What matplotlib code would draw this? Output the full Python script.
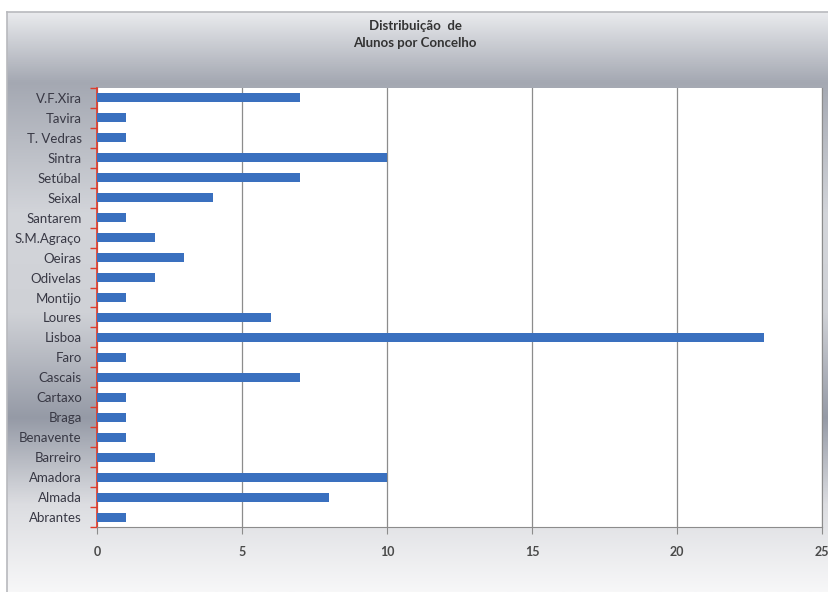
import matplotlib.pyplot as plt
import numpy as np
from matplotlib.colors import LinearSegmentedColormap

concelhos = ['V.F.Xira', 'Tavira', 'T. Vedras', 'Sintra', 'Setúbal', 'Seixal',
             'Santarem', 'S.M.Agraço', 'Oeiras', 'Odivelas', 'Montijo', 'Loures',
             'Lisboa', 'Faro', 'Cascais', 'Cartaxo', 'Braga', 'Benavente',
             'Barreiro', 'Amadora', 'Almada', 'Abrantes']
alunos = [7, 1, 1, 10, 7, 4, 1, 2, 3, 2, 1, 6, 23, 1, 7, 1, 1, 1, 2, 10, 8, 1]
x_ticks = [0, 5, 10, 15, 20, 25]

plt.rcParams['font.family'] = ['Lato', 'DejaVu Sans']

fig = plt.figure(figsize=(8.29, 5.92), dpi=100)

# metallic gradient background of the chart area
bg = fig.add_axes([7 / 829, 0, 1 - 7 / 829, 1 - 12 / 592])
grad_cmap = LinearSegmentedColormap.from_list('metal', [
    (0.00, '#e9eaed'), (0.12, '#a4a8b2'), (0.35, '#d3d5da'),
    (0.52, '#cfd1d6'), (0.70, '#959aa6'), (0.85, '#dcdde1'), (1.00, '#f7f7f8')])
bg.imshow(np.linspace(0, 1, 256).reshape(-1, 1), aspect='auto', cmap=grad_cmap,
          extent=[0, 1, 0, 1])
bg.set_xticks([])
bg.set_yticks([])
for s in bg.spines.values():
    s.set_color('#b8b9bd')
    s.set_linewidth(1.2)
bg.spines['bottom'].set_visible(False)

ax = fig.add_axes([97 / 829, 1 - 527 / 592, (822 - 97) / 829, (527 - 88) / 592])
ax.set_facecolor('white')

y = np.arange(len(concelhos))[::-1]
ax.barh(y, alunos, height=0.45, color='#3a70bf', zorder=3)

ax.set_xlim(0, 25)
ax.set_ylim(-0.5, len(concelhos) - 0.5)
ax.set_xticks(x_ticks)
ax.set_xticklabels([str(t) for t in x_ticks], fontsize=9, fontweight='bold', color='#4a4a4a')
ax.xaxis.grid(True, color='#8c8c8c', linewidth=0.9, zorder=0)

ax.set_yticks(y)
ax.set_yticklabels(concelhos, fontsize=9.5, color='#383844')
ax.set_yticks(np.arange(-0.5, len(concelhos), 1), minor=True)
ax.tick_params(axis='y', which='major', length=0, pad=11)
ax.tick_params(axis='y', which='minor', length=5, color='#e03a2a', width=1)
ax.tick_params(axis='x', length=5, color='#8c8c8c', pad=9)

ax.spines['left'].set_color('#e03a2a')
ax.spines['left'].set_linewidth(1.2)
ax.spines['bottom'].set_color('#8c8c8c')
ax.spines['top'].set_visible(False)
ax.spines['right'].set_color('#8c8c8c')

fig.text(415 / 829, 1 - 26 / 592, 'Distribuição  de', ha='center', va='center',
         fontsize=9.5, fontweight='bold', color='#333333')
fig.text(415 / 829, 1 - 43 / 592, 'Alunos por Concelho', ha='center', va='center',
         fontsize=9.5, fontweight='bold', color='#333333')

plt.savefig('out.png', dpi=100)
